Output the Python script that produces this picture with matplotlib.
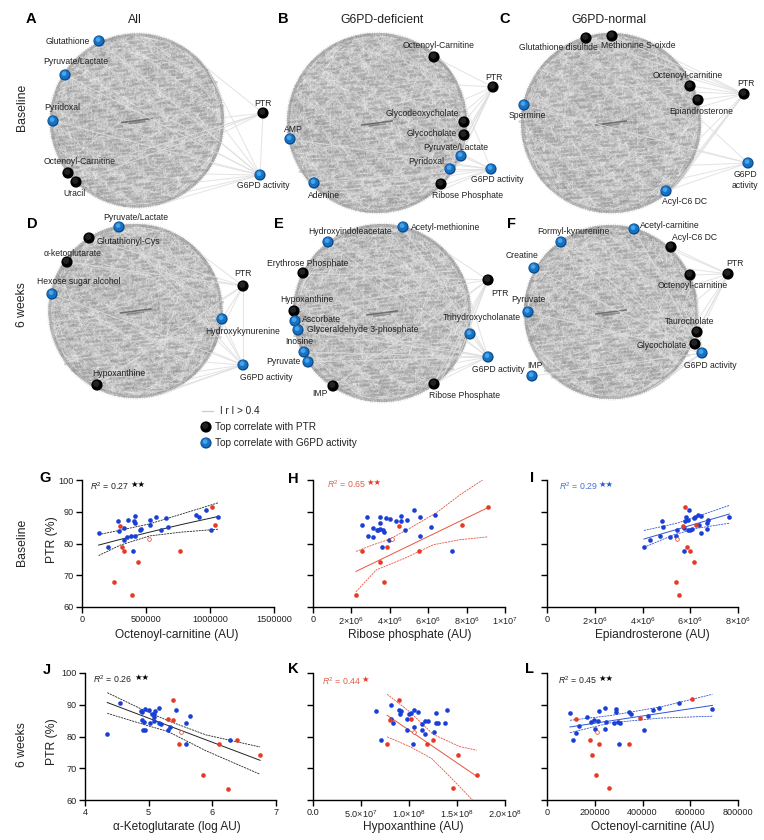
import numpy as np
import matplotlib
matplotlib.use("Agg")
import matplotlib.pyplot as plt
from matplotlib.collections import LineCollection
from matplotlib.patches import Circle

plt.rcParams['font.family'] = ['Liberation Sans', 'DejaVu Sans']
plt.rcParams['mathtext.fontset'] = 'custom'
plt.rcParams['mathtext.rm'] = 'Liberation Sans'
plt.rcParams['mathtext.it'] = 'Liberation Sans:italic'
plt.rcParams['mathtext.default'] = 'regular'

BLUE = '#1a3fd6'
RED = '#e63a24'

# ---------- scatter data ----------
g_blue_x = [130, 202, 280, 290, 325, 330, 353, 360, 385, 397, 403, 415, 415, 415, 450, 460, 530, 532, 580, 620, 655, 675, 893, 917, 966, 1005, 1062]
g_blue_y = [83.2, 79, 87.2, 84, 85, 81, 82, 87.4, 82.3, 77.5, 87, 88.7, 82.4, 86.4, 84.2, 84.6, 87.3, 85.8, 88.4, 84.4, 88, 85.1, 89, 88.5, 90.7, 84.3, 88.2]
g_red_x = [296, 312, 330, 439, 247, 392, 764, 1016, 1039]
g_red_y = [85.4, 79, 77.7, 74.2, 68, 63.7, 77.5, 91.6, 85.8]
g_open = (527, 81.4)
g_line_x = [130, 300, 530, 780, 1062]
g_fit = [79.5, 81.3, 83.6, 86, 88.5]
g_up = [82.8, 84.2, 86.2, 89.3, 92.8]
g_lo = [76.2, 79.5, 82.4, 83.6, 84.5]

h_blue_x = [2.54, 2.8, 2.87, 3.1, 3.1, 3.32, 3.39, 3.48, 3.48, 3.51, 3.58, 3.67, 3.72, 3.79, 3.97, 4.02, 4.3, 4.56, 4.59, 4.78, 4.92, 5.25, 5.55, 5.57, 6.16, 6.33, 7.22]
h_blue_y = [85.9, 88.2, 82.4, 84.9, 82, 84.4, 84.2, 84.6, 86.5, 88.4, 79, 84.3, 83.5, 88, 81, 87.6, 87.2, 88.8, 87.1, 84.4, 87.3, 90.6, 88.5, 82.3, 85.2, 89, 77.5]
h_red_x = [2.57, 3.5, 3.7, 2.24, 3.84, 4.49, 5.51, 7.77, 9.11]
h_red_y = [77.7, 74.2, 68, 63.7, 79, 85.5, 77.5, 85.9, 91.6]
h_open = (4.09, 81.4)
h_fit_x = [2.24, 9.11]
h_fit = [71.2, 91.3]
h_up_x = [2.24, 3.13, 4.0, 5.04, 6.43, 7.65, 8.83]
h_up = [77.5, 79.6, 81.4, 84.8, 89.7, 95.3, 100]
h_lo_x = [2.24, 3.3, 4.87, 6.26, 7.65, 9.11]
h_lo = [64.8, 71.7, 75.6, 79.6, 81.2, 82.1]

i_blue_x = [4.06, 4.3, 4.75, 4.82, 4.87, 5.15, 5.4, 5.45, 5.74, 5.75, 5.77, 5.81, 5.89, 5.95, 5.92, 6.0, 6.06, 6.15, 6.19, 6.31, 6.38, 6.44, 6.45, 6.69, 6.7, 6.73, 7.64]
i_blue_y = [79, 81, 82.4, 87.2, 85.2, 82, 82.4, 84.1, 85, 77.5, 87, 88.5, 87.5, 90.6, 84.3, 84.3, 84.5, 88, 88.5, 89, 85.8, 88.7, 83.4, 86.6, 84.5, 87.4, 88.2]
i_red_x = [5.78, 5.68, 6.26, 5.88, 5.99, 6.16, 5.4, 5.52]
i_red_y = [91.6, 85.5, 85.8, 79, 77.7, 74.2, 68, 63.7]
i_open = (5.43, 81.4)
i_fit_x = [4.06, 7.64]
i_fit = [81.4, 89.3]
i_up_x = [4.06, 5.45, 6.28, 7.64]
i_up = [84.1, 86.4, 88.5, 92]
i_lo_x = [4.06, 5.3, 6.28, 7.64]
i_lo = [78.8, 82.7, 84.8, 86.4]

j_blue_x = [4.35, 4.55, 4.88, 4.9, 4.89, 4.93, 4.91, 4.94, 4.95, 5.01, 5.02, 5.05, 5.09, 5.09, 5.1, 5.09, 5.16, 5.16, 5.19, 5.31, 5.34, 5.43, 5.59, 5.59, 5.65, 6.27]
j_blue_y = [80.9, 90.6, 88, 87.7, 85.1, 84.5, 82, 82.2, 88.7, 88.3, 84.2, 87.1, 86, 87.2, 87.9, 85, 89, 84.3, 83.8, 82.1, 83, 88.4, 77.5, 84.4, 86.3, 79]
j_red_x = [5.39, 5.3, 5.39, 5.47, 5.85, 6.11, 6.25, 6.38, 6.75]
j_red_y = [91.6, 85.4, 85.1, 77.6, 67.9, 77.6, 63.6, 79, 74.2]
j_open = (5.51, 81.4)
j_fit_x = [4.35, 6.75]
j_fit = [90.7, 72.5]
j_up_x = [4.35, 4.9, 5.3, 5.9, 6.75]
j_up = [93.8, 88.5, 85, 80.5, 76.7]
j_lo_x = [4.35, 5.02, 5.3, 5.9, 6.75]
j_lo = [87.3, 83.2, 81.6, 75.5, 68.1]

k_blue_x = [0.657, 0.71, 0.817, 0.817, 0.835, 0.897, 0.904, 0.918, 0.984, 0.981, 1.005, 1.02, 1.037, 1.047, 1.05, 1.089, 1.137, 1.137, 1.165, 1.165, 1.193, 1.256, 1.277, 1.277, 1.297, 1.377, 1.398]
k_blue_y = [88, 79, 90, 85.6, 84.3, 88.3, 87.1, 87.9, 85.6, 82, 87, 87.4, 77.5, 83, 88.4, 87.7, 83.9, 82.1, 85, 80.8, 84.8, 81.5, 87.4, 84.2, 84.3, 84.1, 88.3]
k_red_x = [0.894, 0.803, 1.016, 0.772, 1.245, 1.186, 1.506, 1.704, 1.454]
k_red_y = [91.6, 85.3, 85.6, 77.6, 79, 77.7, 74.2, 68, 63.7]
k_open = (1.047, 81.4)
k_fit_x = [0.772, 1.704]
k_fit = [86.7, 67.5]
k_up_x = [0.772, 1.01, 1.25, 1.53, 1.704]
k_up = [93.3, 87.7, 80.7, 76.8, 75.7]
k_lo_x = [0.772, 1.01, 1.235, 1.46, 1.66]
k_lo = [79.9, 76.8, 73.1, 66.3, 60]

l_blue_x = [0.96, 1.09, 1.23, 1.34, 1.66, 1.86, 1.96, 2.0, 2.12, 2.19, 2.42, 2.44, 2.49, 2.81, 2.88, 2.89, 2.97, 3.0, 3.05, 3.44, 3.53, 4.05, 4.23, 4.46, 4.71, 5.54, 6.93]
l_blue_y = [87.3, 79, 81, 83.3, 86, 84.6, 85.2, 82.4, 85, 88, 88.9, 82.4, 84.7, 84.3, 88.6, 87.6, 84.5, 77.5, 84.3, 87.6, 87.2, 82.1, 86.5, 88.3, 89.1, 90.7, 88.6]
l_red_x = [1.23, 1.82, 2.18, 1.87, 2.07, 2.6, 3.42, 3.9, 6.09]
l_red_y = [85.5, 79, 77.7, 74.2, 68, 63.8, 77.5, 85.9, 91.7]
l_open = (2.11, 81.5)
l_fit_x = [0.96, 6.93]
l_fit = [83, 89.8]
l_up_x = [0.96, 2.65, 4.75, 6.93]
l_up = [85.1, 86.6, 89.3, 93.3]
l_lo_x = [0.96, 2.65, 4.75, 6.93]
l_lo = [81.2, 84.3, 85.8, 86.4]

sci = lambda a, b: f'{a}×10$^{{{b}}}$'
g_ticks, g_labels = [0, 5e5, 1e6, 1.5e6], ['0', '500000', '1000000', '1500000']
h_ticks, h_labels = [0, 2e6, 4e6, 6e6, 8e6, 1e7], ['0', sci(2, 6), sci(4, 6), sci(6, 6), sci(8, 6), sci(1, 7)]
i_ticks, i_labels = [0, 2e6, 4e6, 6e6, 8e6], ['0', sci(2, 6), sci(4, 6), sci(6, 6), sci(8, 6)]
j_ticks, j_labels = [4, 5, 6, 7], ['4', '5', '6', '7']
k_ticks, k_labels = [0, 5e7, 1e8, 1.5e8, 2e8], ['0.0', sci('5.0', 7), sci('1.0', 8), sci('1.5', 8), sci('2.0', 8)]
l_ticks, l_labels = [0, 2e5, 4e5, 6e5, 8e5], ['0', '200000', '400000', '600000', '800000']
ptr_ticks = [60, 70, 80, 90, 100]

# ---------- network layout: label, kind (k/b), node x, y, label x, y in figure pixels ----------
net_a = [('Glutathione', 'b', 99, 41, 68, 41), ('Pyruvate/Lactate', 'b', 65, 75, 76, 62), ('Pyridoxal', 'b', 53, 121, 62, 108),
         ('Octenoyl-Carnitine', 'k', 68, 173, 80, 162), ('Uracil', 'k', 76, 182, 74, 194), ('PTR', 'k', 263, 113, 263, 103),
         ('G6PD activity', 'b', 260, 175, 263, 186)]
net_b = [('Octenoyl-Carnitine', 'k', 434, 57, 439, 46), ('PTR', 'k', 493, 87, 494, 77), ('Glycodeoxycholate', 'k', 464, 122, 422, 114),
         ('Glycocholate', 'k', 464, 135, 432, 133), ('Pyruvate/Lactate', 'b', 461, 156, 456, 148), ('Pyridoxal', 'b', 450, 169, 426, 162),
         ('G6PD activity', 'b', 491, 169, 497, 180), ('Ribose Phosphate', 'k', 441, 184, 468, 196), ('Adenine', 'b', 314, 183, 324, 195),
         ('AMP', 'b', 290, 139, 293, 129)]
net_c = [('Glutathione disulfide', 'k', 586, 38, 558, 48), ('Methionine S-oixde', 'k', 612, 36, 638, 46), ('Octenoyl-carnitine', 'k', 690, 86, 688, 76),
         ('Epiandrosterone', 'k', 698, 100, 701, 111), ('PTR', 'k', 744, 94, 746, 84), ('G6PD\nactivity', 'b', 748, 163, 745, 180),
         ('Acyl-C6 DC', 'b', 666, 191, 685, 201), ('Spermine', 'b', 524, 105, 527, 116)]
net_d = [('Pyruvate/Lactate', 'b', 119, 227, 136, 218), ('Glutathionyl-Cys', 'k', 89, 238, 128, 242), ('α-ketoglutarate', 'k', 67, 262, 73, 253),
         ('Hexose sugar alcohol', 'b', 52, 294, 79, 282), ('PTR', 'k', 243, 286, 243, 274), ('Hydroxykynurenine', 'b', 222, 319, 243, 331),
         ('G6PD activity', 'b', 243, 365, 266, 377), ('Hypoxanthine', 'k', 97, 385, 119, 374)]
net_e = [('Acetyl-methionine', 'b', 403, 227, 446, 228), ('Hydroxyindoleacetate', 'b', 328, 242, 350, 231), ('Erythrose Phosphate', 'k', 303, 273, 308, 264),
         ('PTR', 'k', 488, 280, 500, 293), ('Hypoxanthine', 'k', 294, 311, 307, 300), ('Ascorbate', 'b', 295, 321, 322, 319),
         ('Glyceraldehyde 3-phosphate', 'b', 298, 330, 363, 330), ('Trihydroxycholanate', 'b', 470, 334, 482, 317), ('Inosine', 'b', 304, 352, 299, 342),
         ('Pyruvate', 'b', 308, 362, 283, 362), ('G6PD activity', 'b', 488, 357, 498, 370), ('IMP', 'k', 333, 386, 320, 394),
         ('Ribose Phosphate', 'k', 434, 384, 465, 396)]
net_f = [('Acetyl-carnitine', 'b', 634, 229, 670, 225), ('Formyl-kynurenine', 'b', 561, 242, 573, 232), ('Acyl-C6 DC', 'k', 671, 247, 695, 237),
         ('Creatine', 'b', 534, 268, 522, 256), ('PTR', 'k', 728, 274, 735, 264), ('Octenoyl-carnitine', 'k', 690, 275, 693, 286),
         ('Pyruvate', 'b', 528, 312, 528, 300), ('IMP', 'b', 532, 376, 535, 366), ('Taurocholate', 'k', 697, 332, 690, 322),
         ('Glycocholate', 'k', 695, 344, 662, 345), ('G6PD activity', 'b', 702, 353, 710, 366)]

# disc centre x, y, radius in figure pixels; rim angles (deg, clockwise from right) of the fans to PTR and G6PD
disc_a = (137, 120.5, 87); fan_a_ptr = [-38, -2, 3, 8]; fan_a_g6 = [-35, 5, 15, 22, 30, 38, 45, 55, 70]
disc_b = (377, 123, 90); fan_b_ptr = [-25, -15, -8, 8, 18, 28]; fan_b_g6 = [-10, 20, 28, 36, 44, 52]
disc_c = (611, 123, 90); fan_c_ptr = [-45, -30, -20, -10, 10, 22, 35, 48]; fan_c_g6 = [-2, 18, 28, 38]
disc_d = (135.5, 311, 87); fan_d_ptr = [-40, -20, -8, 5, 15]; fan_d_g6 = [10, 20, 28, 36, 44, 52, 62, 72]
disc_e = (382, 313, 89); fan_e_ptr = [-42, -12, -3, 8, 32, 48]; fan_e_g6 = [-8, 8, 18, 26, 34, 42, 50]
disc_f = (611, 312, 87); fan_f_ptr = [-45, -30, -18, -8, 5, 15]; fan_f_g6 = [-10, 5, 14, 22, 30, 40, 52, 65]

PHI, ROOT2, ROOT3, ROOT5 = 0.6180339887, 0.4142135624, 0.7320508076, 0.2360679775

fig = plt.figure(figsize=(7.64, 8.4), dpi=100)
pix = fig.add_axes([0, 0, 1, 1], zorder=0)
pix.set_xlim(0, 764); pix.set_ylim(840, 0); pix.axis('off')


def draw_node(x, y, kind, r=5.6):
    if kind == 'b':
        layers = [(r, 0, 0, '#0b4a8c'), (r * .82, -.3, -.4, '#1673c4'), (r * .42, -.9, -1.4, '#4aa3e6')]
    else:
        layers = [(r, 0, 0, '#000000'), (r * .55, -.8, -1.2, '#1f2226')]
    for rad, dx, dy, c in layers:
        pix.add_patch(Circle((x + dx, y + dy), rad, fc=c, ec='none', zorder=6))


def hairball_chords(cx, cy, r, count, start, a1, a2):
    # Decorative texture only: irregular chords from a fixed Weyl sequence, not chart data.
    idx = np.arange(start, start + count).astype(float)
    t1 = 2 * np.pi * ((idx * a1) % 1)
    t2 = 2 * np.pi * ((idx * idx * a2) % 1)
    return np.stack([np.c_[cx + r * np.cos(t1), cy + r * np.sin(t1)],
                     np.c_[cx + r * np.cos(t2), cy + r * np.sin(t2)]], axis=1)


def draw_net(disc, nodes, fan_ptr, fan_g6, start, hub_link):
    cx, cy, r = disc
    pix.add_patch(Circle((cx, cy), r, fc='#d0d0d0', ec='none', zorder=1))
    pix.add_collection(LineCollection(hairball_chords(cx, cy, r, 2000, start, PHI, ROOT2),
                                      colors='#777777', linewidths=.25, alpha=.12, zorder=2))
    pix.add_collection(LineCollection(hairball_chords(cx, cy, r, 600, start + 5000, ROOT3, ROOT5),
                                      colors='#ffffff', linewidths=.5, alpha=.2, zorder=2))
    # short horizontal dark blotches
    idx = np.arange(start, start + 280)
    u = 2 * ((idx * ROOT3) % 1) - 1
    v = 2 * ((idx * ROOT5) % 1) - 1
    w = .03 + .07 * ((idx * PHI) % 1)
    keep = u ** 2 + v ** 2 < .92
    segs = [[(cx + (a - c) * r, cy + b * r + .5), (cx + (a + c) * r, cy + b * r - .5)]
            for a, b, c in zip(u[keep], v[keep], w[keep])]
    pix.add_collection(LineCollection(segs, colors='#808080', linewidths=1.7, alpha=.33, zorder=3))
    pix.plot([cx - 15, cx + 15], [cy + 2, cy - 2], color='#4d4d4d', lw=1.2, alpha=.7, zorder=3)
    pix.plot([cx - 8, cx + 8], [cy + 3, cy + 1], color='#5a5a5a', lw=1.2, alpha=.55, zorder=3)
    # fuzzy rim
    th = np.radians(np.arange(0, 360, 1.5))
    spokes = [[(cx + (r - 3) * np.cos(t), cy + (r - 3) * np.sin(t)), (cx + (r + 1.5) * np.cos(t), cy + (r + 1.5) * np.sin(t))] for t in th]
    pix.add_collection(LineCollection(spokes, colors='#999999', linewidths=.35, alpha=.5, zorder=3))
    pix.add_patch(Circle((cx, cy), r - 1.5, fc='none', ec='#8a8a8a', lw=1.8, alpha=.35, zorder=3))
    # edges from the outer nodes
    pos = {t[0]: (t[2], t[3]) for t in nodes}
    ptr = pos['PTR']
    g6 = next(v for k, v in pos.items() if k.startswith('G6PD'))
    segs = []
    for hub, fan in ((ptr, fan_ptr), (g6, fan_g6)):
        for a in fan:
            segs.append([hub, (cx + r * np.cos(np.radians(a)), cy + r * np.sin(np.radians(a)))])
    for name, kind, x, y, _, _ in nodes:
        if name == 'PTR' or name.startswith('G6PD'):
            continue
        segs.append([(x, y), ptr if kind == 'k' else g6])
    if hub_link:
        segs.append([ptr, g6])
    pix.add_collection(LineCollection(segs, colors='#dedede', linewidths=.75, alpha=.8, zorder=4))
    for name, kind, x, y, lx, ly in nodes:
        draw_node(x, y, kind)
        pix.text(lx, ly, name, fontsize=6.2, color='#222222', ha='center', va='center', zorder=8, linespacing=1.15)


draw_net(disc_a, net_a, fan_a_ptr, fan_a_g6, 1, True)
draw_net(disc_b, net_b, fan_b_ptr, fan_b_g6, 301, False)
draw_net(disc_c, net_c, fan_c_ptr, fan_c_g6, 601, False)
draw_net(disc_d, net_d, fan_d_ptr, fan_d_g6, 901, True)
draw_net(disc_e, net_e, fan_e_ptr, fan_e_g6, 1201, False)
draw_net(disc_f, net_f, fan_f_ptr, fan_f_g6, 1501, False)

# titles, row labels, panel letters
for txt, x in (('All', 135), ('G6PD-deficient', 382), ('G6PD-normal', 609)):
    pix.text(x, 20, txt, fontsize=8.8, color='#222222', ha='center', va='center', zorder=9)
for txt, y in (('Baseline', 107), ('6 weeks', 305), ('Baseline', 542), ('6 weeks', 745)):
    pix.text(22, y, txt, fontsize=8.8, color='#222222', rotation=90, ha='center', va='center', zorder=9)
for txt, x, y in (('A', 31, 19), ('B', 283, 19), ('C', 505, 19), ('D', 32, 224), ('E', 279, 224), ('F', 511, 224),
                  ('G', 45, 478), ('H', 293, 479), ('I', 532, 478), ('J', 47, 670), ('K', 293, 669), ('L', 529, 669)):
    pix.text(x, y, txt, fontsize=10.5, fontweight='bold', color='black', ha='center', va='center', zorder=9)

# network legend
pix.plot([202, 213], [411, 411], color='#cccccc', lw=.9, zorder=5)
pix.text(220, 411, 'I r I > 0.4', fontsize=7.2, color='#222222', va='center', zorder=9)
draw_node(206, 427, 'k')
pix.text(215, 427, 'Top correlate with PTR', fontsize=7.2, color='#222222', va='center', zorder=9)
draw_node(206, 443, 'b')
pix.text(215, 443, 'Top correlate with G6PD activity', fontsize=7.2, color='#222222', va='center', zorder=9)


def scatter_panel(box, xlim, ticks, tick_labels, xlabel, xlab_x, xlab_y, scale, bx, by, rx, ry, op,
                  fit_x, fit, up_x, up, lo_x, lo, linecol, lw, show_y, ylab, ylab_y,
                  r2, r2_x, r2_y, r2_col, stars, star_x, star_col):
    left, right, top, bottom = box
    ax = fig.add_axes([left / 764, 1 - bottom / 840, (right - left) / 764, (bottom - top) / 840], zorder=2)
    ax.patch.set_alpha(0)
    ax.set_xlim(*xlim); ax.set_ylim(60, 100)
    ax.plot(np.array(fit_x) * scale, fit, color=linecol, lw=lw, zorder=2)
    ax.plot(np.array(up_x) * scale, up, color=linecol, lw=lw * .85, ls=(0, (2.5, 1)), zorder=2)
    ax.plot(np.array(lo_x) * scale, lo, color=linecol, lw=lw * .85, ls=(0, (2.5, 1)), zorder=2)
    ax.scatter(np.array(bx) * scale, by, s=11, color=BLUE, lw=0, zorder=3)
    ax.scatter(np.array(rx) * scale, ry, s=11, color=RED, lw=0, zorder=3)
    ax.scatter([op[0] * scale], [op[1]], s=7, facecolor='white', edgecolor=RED, lw=.5, zorder=3)
    for s in ('top', 'right'):
        ax.spines[s].set_visible(False)
    for s in ('left', 'bottom'):
        ax.spines[s].set_linewidth(1.0)
    ax.set_xticks(ticks); ax.set_xticklabels(tick_labels)
    ax.set_yticks(ptr_ticks)
    ax.tick_params(axis='both', length=4.3, width=1.0, pad=1.5, labelsize=6.6, labelcolor='#222222')
    if show_y:
        ax.set_ylabel(ylab, fontsize=8.8, color='#222222', va='center')
        ax.yaxis.set_label_coords(52, ylab_y, transform=pix.transData)
    else:
        ax.set_yticklabels([])
    ax.set_xlabel(xlabel, fontsize=8.6, color='#222222', va='center')
    ax.xaxis.set_label_coords(xlab_x, xlab_y, transform=pix.transData)
    pix.text(r2_x, r2_y, f'$\\mathit{{R}}^{{2}}$ = {r2}', fontsize=6.3, color=r2_col, va='center', zorder=9)
    pix.text(star_x, r2_y - 1.5, stars, fontsize=6, color=star_col, family='DejaVu Sans', va='center', zorder=9)


R_LINE, B_LINE, K_LINE = '#e8533c', '#2f55d4', '#222222'
row1 = (480, 607)
row2 = (673, 800)
scatter_panel((82, 274) + row1, (0, 1.5e6), g_ticks, g_labels, 'Octenoyl-carnitine (AU)', 177, 635, 1e3,
              g_blue_x, g_blue_y, g_red_x, g_red_y, g_open, g_line_x, g_fit, g_line_x, g_up, g_line_x, g_lo,
              K_LINE, .7, True, 'PTR (%)', 540, '0.27', 90, 486, '#222222', '★★', 130, 'black')
scatter_panel((313, 505) + row1, (0, 1e7), h_ticks, h_labels, 'Ribose phosphate (AU)', 410, 635, 1e6,
              h_blue_x, h_blue_y, h_red_x, h_red_y, h_open, h_fit_x, h_fit, h_up_x, h_up, h_lo_x, h_lo,
              R_LINE, .7, False, '', 0, '0.65', 327, 484, '#e0604a', '★★', 366, RED)
scatter_panel((547, 738) + row1, (0, 8e6), i_ticks, i_labels, 'Epiandrosterone (AU)', 652, 635, 1e6,
              i_blue_x, i_blue_y, i_red_x, i_red_y, i_open, i_fit_x, i_fit, i_up_x, i_up, i_lo_x, i_lo,
              B_LINE, .7, False, '', 0, '0.29', 559, 486, '#4a6fd0', '★★', 598, B_LINE)
scatter_panel((85, 276) + row2, (4, 7), j_ticks, j_labels, 'α-Ketoglutarate (log AU)', 177, 827, 1,
              j_blue_x, j_blue_y, j_red_x, j_red_y, j_open, j_fit_x, j_fit, j_up_x, j_up, j_lo_x, j_lo,
              K_LINE, .7, True, 'PTR (%)', 742, '0.26', 93, 679, '#222222', '★★', 134, 'black')
scatter_panel((313, 505) + row2, (0, 2e8), k_ticks, k_labels, 'Hypoxanthine (AU)', 413, 827, 1e8,
              k_blue_x, k_blue_y, k_red_x, k_red_y, k_open, k_fit_x, k_fit, k_up_x, k_up, k_lo_x, k_lo,
              R_LINE, .7, False, '', 0, '0.44', 322, 681, '#e0604a', '★', 361, RED)
scatter_panel((547, 738) + row2, (0, 8e5), l_ticks, l_labels, 'Octenoyl-carnitine (AU)', 653, 827, 1e5,
              l_blue_x, l_blue_y, l_red_x, l_red_y, l_open, l_fit_x, l_fit, l_up_x, l_up, l_lo_x, l_lo,
              B_LINE, .7, False, '', 0, '0.45', 558, 680, '#222222', '★★', 598, 'black')

fig.savefig('out.png', dpi=100)
